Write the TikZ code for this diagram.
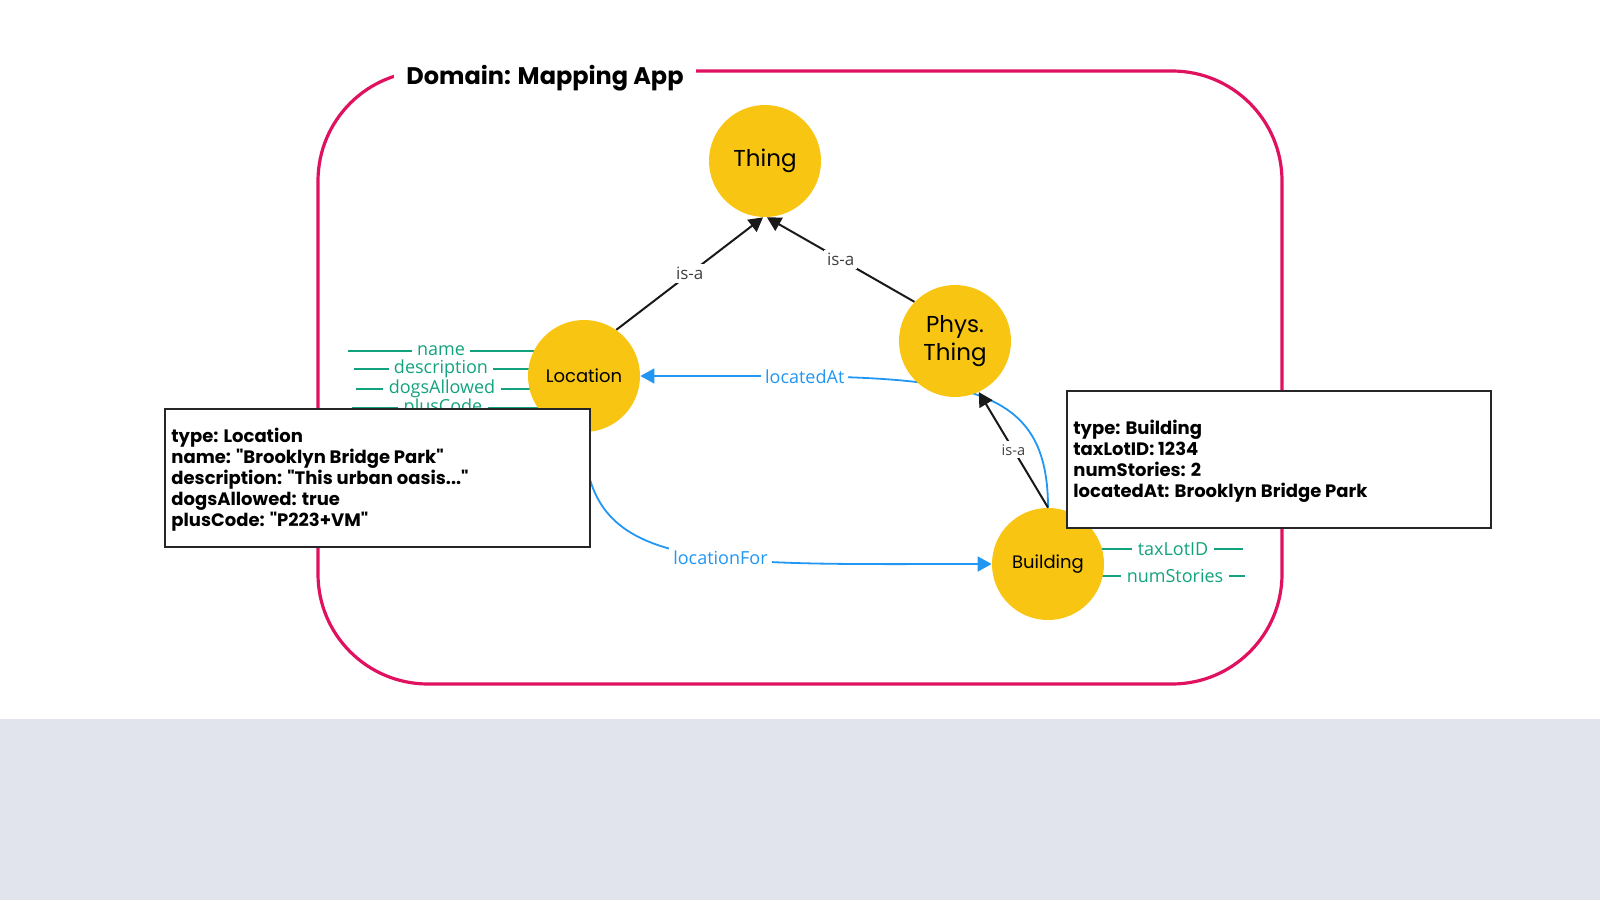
\documentclass[tikz,border=0pt]{standalone}
\usepackage{fontspec}
\setmainfont{Poppins}
\newfontfamily\edgefont{Open Sans}
\usetikzlibrary{arrows.meta,backgrounds}
\definecolor{classyel}{RGB}{248,197,19}
\definecolor{domred}{RGB}{224,17,95}
\definecolor{attrgrn}{RGB}{18,163,126}
\definecolor{relblue}{RGB}{33,150,243}
\definecolor{bandgray}{RGB}{225,228,237}
\tikzset{
  classnode/.style = {circle, minimum size=56pt, inner sep=1pt, fill=classyel,
                      align=center, font=\fontsize{9}{11}\selectfont},
  bignode/.style   = {classnode, font=\fontsize{11.5}{13.8}\selectfont},
  isaedge/.style   = {-{Triangle[length=7pt,width=7.5pt]}, line width=1pt, black!90},
  isalbl/.style    = {font=\edgefont\fontsize{8.5}{10}\selectfont, text=black!75,
                      fill=white, inner sep=1.5pt},
  reledge/.style   = {-{Triangle[length=7pt,width=7.5pt]}, line width=0.9pt, relblue},
  rellbl/.style    = {font=\edgefont\fontsize{9}{11}\selectfont, text=relblue,
                      fill=white, inner sep=2pt},
  attrline/.style  = {attrgrn, line width=1pt},
  attrlbl/.style   = {font=\edgefont\fontsize{9}{11}\selectfont, text=attrgrn, inner sep=2.5pt},
  cardbox/.style   = {draw=black!85, line width=1pt, fill=white, inner sep=0pt,
                      anchor=north west},
  cardtext/.style  = {align=left, inner sep=0pt, anchor=north west,
                      font=\bfseries\fontsize{9}{10.5}\selectfont}
}
\newcommand{\qt}{\textquotedbl}

\begin{document}
\begin{tikzpicture}[x=0.5pt, y=-0.5pt]
  \useasboundingbox (0,0) rectangle (1600,900);
  % Classes
  \node[bignode]   (thing) at (765,161)  {Thing};
  \node[bignode]   (phys)  at (955,341)  {Phys.\\Thing};
  \node[classnode] (loc)   at (584,376)  {Location};
  \node[classnode] (bld)   at (1048,564) {Building};
  % Domain title
  \node[fill=white, inner xsep=6pt, inner ysep=6pt,
        font=\bfseries\fontsize{12}{14}\selectfont] (title) at (545,78) {Domain: Mapping App};
  \begin{scope}[on background layer]
    % Band and frame
    \fill[bandgray] (0,719) rectangle (1600,900);
    \draw[domred, line width=1.6pt, rounded corners=55pt] (318,71) rectangle (1282,684);
    % Attributes of Location
    \node[attrlbl] (aName) at (441,351) {name};
    \node[attrlbl] (aDesc) at (441,369) {description};
    \node[attrlbl] (aDogs) at (442,389) {dogsAllowed};
    \node[attrlbl] (aPlus) at (443,408) {plusCode};
    \coordinate (eName) at (348,351);
    \coordinate (eDesc) at (354,369);
    \coordinate (eDogs) at (356,389);
    \coordinate (ePlus) at (352,408);
    \draw[attrline] (eName) -- (aName) -- (aName -| loc.center);
    \draw[attrline] (eDesc) -- (aDesc) -- (aDesc -| loc.center);
    \draw[attrline] (eDogs) -- (aDogs) -- (aDogs -| loc.center);
    \draw[attrline] (ePlus) -- (aPlus) -- (aPlus -| loc.center);
    % Attributes of Building
    \node[attrlbl] (aLot) at (1173,549) {taxLotID};
    \node[attrlbl] (aNum) at (1175,576) {numStories};
    \coordinate (eLot) at (1243,549);
    \coordinate (eNum) at (1245,576);
    \draw[attrline] (bld.center |- aLot) -- (aLot) -- (eLot);
    \draw[attrline] (bld.center |- aNum) -- (aNum) -- (eNum);
    % locatedAt runs behind Phys. Thing
    \draw[reledge] (bld.north) .. controls +(0,-140) and +(300,0) .. (loc.east)
      node[rellbl, pos=0.79] {locatedAt};
  \end{scope}
  % is-a edges
  \draw[isaedge] (loc.55)    -- (thing.-92) node[isalbl, midway] {is-a};
  \draw[isaedge] (phys.136)  -- (thing.-88) node[isalbl, midway] {is-a};
  \draw[isaedge] (bld.north) -- (phys.-65)
    node[isalbl, midway, font=\edgefont\fontsize{7.3}{9}\selectfont] {is-a};
  % locationFor
  \draw[reledge] (loc.south) .. controls +(0,140) and +(-290,0) .. (bld.west)
    node[rellbl, pos=0.595] {locationFor};
  % Instance cards
  \node[cardbox, minimum width=212.5pt, minimum height=69pt] (locCard) at (164,408) {};
  \node[cardtext] (locText) at (171,428)
    {type: Location\\name: \qt Brooklyn Bridge Park\qt\\description: \qt This urban oasis...\qt\\dogsAllowed: true\\plusCode: \qt P223+VM\qt};
  \node[cardbox, minimum width=212pt, minimum height=68.5pt] (bldCard) at (1066,390) {};
  \node[cardtext] (bldText) at (1073,420)
    {type: Building\\taxLotID: 1234\\numStories: 2\\locatedAt: Brooklyn Bridge Park};
\end{tikzpicture}
\end{document}
